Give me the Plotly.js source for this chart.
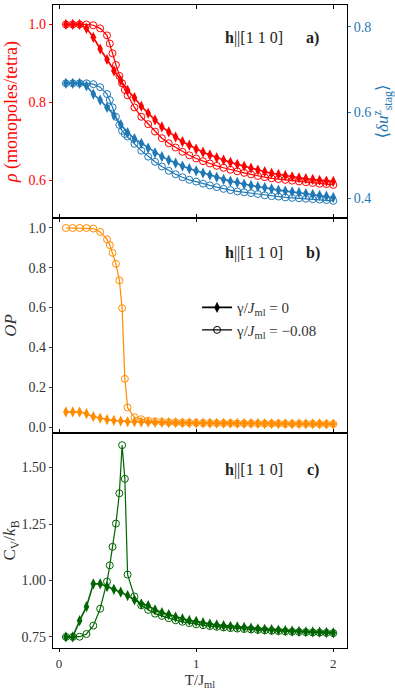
<!DOCTYPE html>
<html>
<head>
<meta charset="utf-8">
<script src="https://cdn.plot.ly/plotly-3.0.1.min.js"></script>
<style>
  html, body { margin: 0; padding: 0; background: #fff; }
  #chart { width: 395px; height: 690px; }
</style>
</head>
<body>
<div id="chart"></div>
<script>
// temperatures (T/J_ml)
var xFill = [0.05, 0.10, 0.15, 0.20, 0.25, 0.30, 0.35, 0.40, 0.45, 0.50,
             0.55, 0.60, 0.65, 0.70, 0.75, 0.80, 0.85, 0.90, 0.95, 1.00,
             1.05, 1.10, 1.15, 1.20, 1.25, 1.30, 1.35, 1.40, 1.45, 1.50,
             1.55, 1.60, 1.65, 1.70, 1.75, 1.80, 1.85, 1.90, 1.95, 2.00];
var xOpen = [0.05, 0.10, 0.15, 0.20, 0.25, 0.30, 0.35,
             0.37, 0.39, 0.415, 0.44, 0.46, 0.48, 0.50,
             0.55, 0.60, 0.65, 0.70, 0.75, 0.80, 0.85, 0.90, 0.95, 1.00,
             1.05, 1.10, 1.15, 1.20, 1.25, 1.30, 1.35, 1.40, 1.45, 1.50,
             1.55, 1.60, 1.65, 1.70, 1.75, 1.80, 1.85, 1.90, 1.95, 2.00];

// panel a) monopole density, gamma = 0 and gamma = -0.08
var rhoFill = [1.0, 1.0, 1.0, 0.99, 0.967, 0.937, 0.91, 0.881, 0.856, 0.831,
               0.812, 0.79, 0.772, 0.755, 0.737, 0.724, 0.711, 0.699, 0.69, 0.68,
               0.672, 0.665, 0.658, 0.652, 0.646, 0.641, 0.636, 0.631, 0.626, 0.622,
               0.618, 0.615, 0.612, 0.609, 0.606, 0.604, 0.602, 0.600, 0.598, 0.597];
var rhoOpen = [1.0, 1.0, 1.0, 1.0, 0.998, 0.99, 0.972,
               0.951, 0.926, 0.896, 0.868, 0.849, 0.832, 0.818,
               0.787, 0.763, 0.744, 0.725, 0.708, 0.695, 0.684, 0.673, 0.664, 0.656,
               0.649, 0.643, 0.637, 0.632, 0.627, 0.623, 0.619, 0.615, 0.611, 0.608,
               0.605, 0.603, 0.601, 0.599, 0.597, 0.595, 0.593, 0.591, 0.59, 0.588];

// panel a) staggered distortion (right axis)
var uFill = [0.668, 0.668, 0.668, 0.662, 0.643, 0.629, 0.612, 0.594, 0.572, 0.553,
             0.539, 0.528, 0.517, 0.506, 0.497, 0.489, 0.482, 0.475, 0.469, 0.464,
             0.459, 0.454, 0.449, 0.444, 0.44, 0.437, 0.433, 0.43, 0.427, 0.425,
             0.422, 0.419, 0.417, 0.415, 0.413, 0.411, 0.409, 0.407, 0.405, 0.402];
var uOpen = [0.668, 0.668, 0.668, 0.668, 0.666, 0.659, 0.643,
             0.629, 0.612, 0.59, 0.571, 0.557, 0.55, 0.544,
             0.527, 0.511, 0.497, 0.485, 0.474, 0.464, 0.456, 0.449, 0.443, 0.439,
             0.434, 0.43, 0.426, 0.422, 0.419, 0.416, 0.414, 0.412, 0.41, 0.407,
             0.405, 0.404, 0.402, 0.401, 0.4, 0.399, 0.398, 0.397, 0.396, 0.394];

// panel b) order parameter
var opFill = [0.076, 0.076, 0.075, 0.067, 0.052, 0.045, 0.037, 0.033, 0.03, 0.027,
              0.026, 0.025, 0.024, 0.023, 0.023, 0.022, 0.022, 0.021, 0.021, 0.02,
              0.02, 0.02, 0.019, 0.019, 0.019, 0.018, 0.018, 0.018, 0.018, 0.017,
              0.017, 0.017, 0.017, 0.016, 0.016, 0.016, 0.016, 0.016, 0.015, 0.015];
var opOpen = [1.0, 1.0, 1.0, 1.0, 0.997, 0.98, 0.943,
              0.914, 0.875, 0.82, 0.737, 0.597, 0.242, 0.098,
              0.049, 0.039, 0.032, 0.028, 0.026, 0.024, 0.023, 0.022, 0.021, 0.021,
              0.02, 0.02, 0.019, 0.019, 0.019, 0.018, 0.018, 0.018, 0.017, 0.017,
              0.017, 0.017, 0.016, 0.016, 0.016, 0.016, 0.016, 0.015, 0.015, 0.015];

// panel c) specific heat
var cvFill = [0.75, 0.75, 0.822, 0.884, 0.985, 0.985, 0.973, 0.961, 0.948, 0.933,
              0.914, 0.896, 0.889, 0.87, 0.858, 0.849, 0.838, 0.83, 0.823, 0.819,
              0.813, 0.807, 0.803, 0.80, 0.797, 0.795, 0.792, 0.789, 0.786, 0.784,
              0.782, 0.78, 0.778, 0.776, 0.775, 0.773, 0.772, 0.771, 0.770, 0.768];
var cvOpen = [0.75, 0.75, 0.751, 0.763, 0.80, 0.875, 0.995,
              1.067, 1.149, 1.252, 1.386, 1.599, 1.45, 1.026,
              0.929, 0.89, 0.87, 0.853, 0.843, 0.833, 0.824, 0.817, 0.811, 0.806,
              0.802, 0.798, 0.795, 0.792, 0.789, 0.787, 0.785, 0.783, 0.781, 0.779,
              0.777, 0.776, 0.774, 0.773, 0.772, 0.771, 0.770, 0.769, 0.768, 0.767];

var legendNames = ['γ/<i>J</i><sub>ml</sub> = 0', 'γ/<i>J</i><sub>ml</sub> = −0.08'];

var RED = '#ff0000', BLUE = '#1f77b4', ORANGE = '#ff8c00', GREEN = '#006400';
var FONT = '"Liberation Serif", "DejaVu Serif", serif';

function filled(x, y, color, xa, ya) {
  return {
    x: x, y: y, xaxis: xa, yaxis: ya, type: 'scatter', mode: 'lines+markers',
    showlegend: false,
    line: {color: color, width: 1.6},
    marker: {symbol: 'diamond-tall', size: 8, color: color}
  };
}
function open(x, y, color, xa, ya) {
  return {
    x: x, y: y, xaxis: xa, yaxis: ya, type: 'scatter', mode: 'lines+markers',
    showlegend: false,
    line: {color: color, width: 1.2},
    marker: {symbol: 'circle-open', size: 7, color: color, line: {width: 1, color: color}}
  };
}

var data = [
  filled(xFill, rhoFill, RED, 'x', 'y'),
  open(xOpen, rhoOpen, RED, 'x', 'y'),
  filled(xFill, uFill, BLUE, 'x', 'y4'),
  open(xOpen, uOpen, BLUE, 'x', 'y4'),
  filled(xFill, opFill, ORANGE, 'x2', 'y2'),
  open(xOpen, opOpen, ORANGE, 'x2', 'y2'),
  filled(xFill, cvFill, GREEN, 'x3', 'y3'),
  open(xOpen, cvOpen, GREEN, 'x3', 'y3'),
  // legend entries only
  {x: [null], y: [null], xaxis: 'x2', yaxis: 'y2', mode: 'lines+markers', name: legendNames[0],
   line: {color: 'black', width: 1.6}, marker: {symbol: 'diamond-tall', size: 8, color: 'black'}},
  {x: [null], y: [null], xaxis: 'x2', yaxis: 'y2', mode: 'lines+markers', name: legendNames[1],
   line: {color: 'black', width: 1.2}, marker: {symbol: 'circle-open', size: 7, color: 'black', line: {width: 1}}}
];

var xBase = {
  range: [-0.044, 2.10], tickvals: [0, 1, 2], showgrid: false, zeroline: false,
  showline: true, mirror: 'ticks', linecolor: 'black', linewidth: 1.2,
  ticks: 'inside', ticklen: 4, tickcolor: 'black', showticklabels: false
};
var yBase = {
  showgrid: false, zeroline: false, showline: true, mirror: true,
  linecolor: 'black', linewidth: 1.2, ticks: 'outside', ticklen: 3,
  tickcolor: '#333', tickfont: {family: FONT, size: 14, color: '#333'}
};

var layout = {
  width: 395, height: 690,
  margin: {l: 53, r: 48, t: 5, b: 42},
  paper_bgcolor: 'white', plot_bgcolor: 'white',
  font: {family: FONT, size: 14, color: '#333'},
  showlegend: true,
  legend: {x: 0.49, y: 0.555, xanchor: 'left', yanchor: 'top', bgcolor: 'rgba(0,0,0,0)',
           font: {family: FONT, size: 15, color: '#333'}, tracegroupgap: 2},
  xaxis: Object.assign({}, xBase, {anchor: 'y'}),
  xaxis2: Object.assign({}, xBase, {anchor: 'y2'}),
  xaxis3: Object.assign({}, xBase, {anchor: 'y3', ticks: 'outside', ticklen: 3, showticklabels: true,
    tickfont: {family: FONT, size: 13, color: '#333'},
    title: {text: 'T/J<sub>ml</sub>', font: {family: FONT, size: 15, color: '#333'}, standoff: 5}}),
  yaxis: Object.assign({}, yBase, {domain: [0.6687, 1], anchor: 'x', range: [0.503, 1.05],
    tickvals: [0.6, 0.8, 1.0], tickformat: '.1f', tickcolor: RED,
    tickfont: {family: FONT, size: 14, color: RED},
    title: {text: '<i>ρ</i> (monopoles/tetra)', font: {family: FONT, size: 18, color: RED}, standoff: 6}}),
  yaxis4: {overlaying: 'y', side: 'right', anchor: 'x', range: [0.354, 0.8505],
    tickvals: [0.4, 0.6, 0.8], tickformat: '.1f', showgrid: false, zeroline: false,
    showline: false, ticks: 'outside', ticklen: 3, tickcolor: BLUE,
    tickfont: {family: FONT, size: 14, color: BLUE},
    title: {text: '⟨<i>δu</i><sup>z</sup><sub>stag</sub>⟩', font: {family: FONT, size: 17, color: BLUE}, standoff: 3}},
  yaxis2: Object.assign({}, yBase, {domain: [0.3344, 0.6687], anchor: 'x2', range: [-0.03, 1.05],
    tickvals: [0, 0.2, 0.4, 0.6, 0.8, 1.0], tickformat: '.1f',
    title: {text: '<i>OP</i>', font: {family: FONT, size: 17, color: '#333'}, standoff: 7}}),
  yaxis3: Object.assign({}, yBase, {domain: [0, 0.3344], anchor: 'x3', range: [0.701, 1.653],
    tickvals: [0.75, 1.0, 1.25, 1.5], tickformat: '.2f',
    title: {text: 'C<sub>V</sub>/<i>k</i><sub>B</sub>', font: {family: FONT, size: 17, color: '#333'}, standoff: 1}}),
  annotations: [
    {xref: 'x', yref: 'y domain', x: 1.42, y: 0.897, text: '<b>h</b>||[1 1 0]', showarrow: false, font: {family: FONT, size: 16, color: '#222'}},
    {xref: 'x', yref: 'y domain', x: 1.85, y: 0.897, text: '<b>a)</b>', showarrow: false, font: {family: FONT, size: 16, color: '#222'}},
    {xref: 'x2', yref: 'y2 domain', x: 1.42, y: 0.888, text: '<b>h</b>||[1 1 0]', showarrow: false, font: {family: FONT, size: 16, color: '#222'}},
    {xref: 'x2', yref: 'y2 domain', x: 1.85, y: 0.888, text: '<b>b)</b>', showarrow: false, font: {family: FONT, size: 16, color: '#222'}},
    {xref: 'x3', yref: 'y3 domain', x: 1.42, y: 0.879, text: '<b>h</b>||[1 1 0]', showarrow: false, font: {family: FONT, size: 16, color: '#222'}},
    {xref: 'x3', yref: 'y3 domain', x: 1.85, y: 0.879, text: '<b>c)</b>', showarrow: false, font: {family: FONT, size: 16, color: '#222'}}
  ]
};

Plotly.newPlot('chart', data, layout, {displayModeBar: false, staticPlot: true});
</script>
</body>
</html>
